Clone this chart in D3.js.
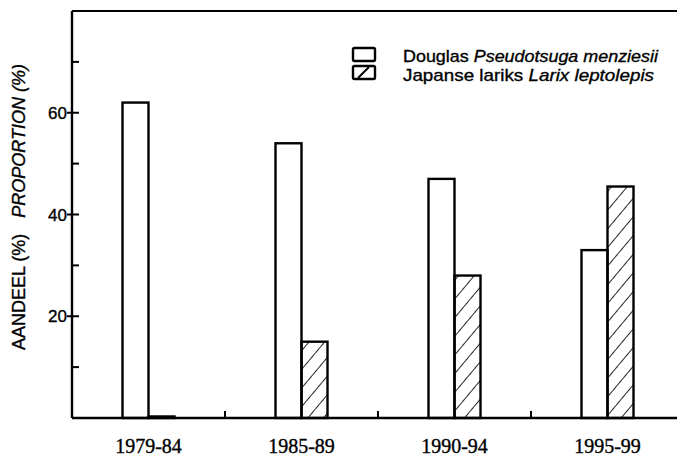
<!DOCTYPE html>
<html><head><meta charset="utf-8">
<script src="https://cdn.jsdelivr.net/npm/d3@7"></script>
<style>body{margin:0;background:#fff}svg{display:block}text{stroke:#000;stroke-width:0.35px}</style>
</head><body>
<script>
const categories = ["1979-84","1985-89","1990-94","1995-99"];
const douglas = [62, 54, 47, 33];
const larix = [0.3, 15, 28, 45.5];
const yMajorTicks = [20, 40, 60];
const yMinorTicks = [10, 30, 50, 70];
const seriesNames = [
  ["Douglas ", "Pseudotsuga menziesii"],
  ["Japanse lariks ", "Larix leptolepis"]
];

const W = 677, H = 456;
const svg = d3.select("body").append("svg").attr("width", W).attr("height", H);
const defs = svg.append("defs");
const pat = defs.append("pattern").attr("id","hatch").attr("patternUnits","userSpaceOnUse")
  .attr("width", 12).attr("height", 12).attr("patternTransform","rotate(40)");
pat.append("line").attr("x1",0).attr("y1",0).attr("x2",0).attr("y2",12)
  .attr("stroke","#000").attr("stroke-width",1.7);

const mLeft = 72, mTop = 11, mBottom = 418;
const x = d3.scaleBand().domain(categories).range([mLeft, mLeft + 4*153]).padding(0);
const y = d3.scaleLinear().domain([0, 80]).range([mBottom, mTop]);
const bw = 26;

const g = svg.append("g");
categories.forEach((c, i) => {
  const cx = x(c) + x.bandwidth()/2;
  g.append("rect").attr("x", cx - bw).attr("y", y(douglas[i])).attr("width", bw)
    .attr("height", y(0) - y(douglas[i])).attr("fill","#fff").attr("stroke","#000").attr("stroke-width",2.4);
  g.append("rect").attr("x", cx).attr("y", y(larix[i])).attr("width", bw)
    .attr("height", y(0) - y(larix[i])).attr("fill","url(#hatch)").attr("stroke","#000").attr("stroke-width",2.4);
});

svg.append("line").attr("x1", mLeft).attr("x2", W).attr("y1", y(0)).attr("y2", y(0)).attr("stroke","#000").attr("stroke-width",2.4);
svg.append("line").attr("x1", mLeft).attr("x2", mLeft).attr("y1", y(80)).attr("y2", y(0)).attr("stroke","#000").attr("stroke-width",2.4);
svg.append("line").attr("x1", mLeft).attr("x2", W).attr("y1", y(80)).attr("y2", y(80)).attr("stroke","#000").attr("stroke-width",2.2);

yMajorTicks.forEach(t => {
  svg.append("line").attr("x1", mLeft-5).attr("x2", mLeft+7).attr("y1", y(t)).attr("y2", y(t)).attr("stroke","#000").attr("stroke-width",2);
  svg.append("text").attr("x", mLeft-5).attr("y", y(t)).attr("dy","0.36em").attr("text-anchor","end")
    .attr("font-family","Liberation Sans, Arial, sans-serif").attr("font-size",17).text(t);
});
yMinorTicks.forEach(t => {
  svg.append("line").attr("x1", mLeft).attr("x2", mLeft+7).attr("y1", y(t)).attr("y2", y(t)).attr("stroke","#000").attr("stroke-width",2);
});

categories.slice(1).forEach(c => {
  const xx = x(c);
  svg.append("line").attr("x1", xx).attr("x2", xx).attr("y1", y(0)).attr("y2", y(0)-7).attr("stroke","#000").attr("stroke-width",2);
});
categories.forEach(c => {
  svg.append("text").attr("x", x(c) + x.bandwidth()/2).attr("y", 453).attr("text-anchor","middle")
    .attr("font-family","Liberation Serif, Times New Roman, serif").attr("font-size",20).text(c);
});

const yl = svg.append("text").attr("transform","translate(25,350) rotate(-90)")
  .attr("font-family","Liberation Sans, Arial, sans-serif").attr("font-size",18);
yl.append("tspan").text("AANDEEL (%)");
yl.append("tspan").attr("dx", 16).attr("font-style","italic").text("PROPORTION (%)");

const lg = svg.append("g");
const legendWidths = [255, 251];
seriesNames.forEach((s, i) => {
  const yy = 48 + i*18;
  lg.append("rect").attr("x", 353).attr("y", yy).attr("width", 22).attr("height", 13).attr("rx",1.5)
    .attr("fill", "#fff").attr("stroke","#000").attr("stroke-width",2.4);
  if (i) lg.append("line").attr("x1", 358).attr("y1", yy + 12).attr("x2", 369).attr("y2", yy + 1)
    .attr("stroke","#000").attr("stroke-width",2);
  const t = lg.append("text").attr("x", 403).attr("y", 61.5 + i*19.2)
    .attr("font-family","Liberation Sans, Arial, sans-serif").attr("font-size",17)
    .attr("textLength", legendWidths[i]).attr("lengthAdjust","spacingAndGlyphs");
  t.append("tspan").text(s[0]);
  t.append("tspan").attr("font-style","italic").text(s[1]);
});
</script>
</body></html>
